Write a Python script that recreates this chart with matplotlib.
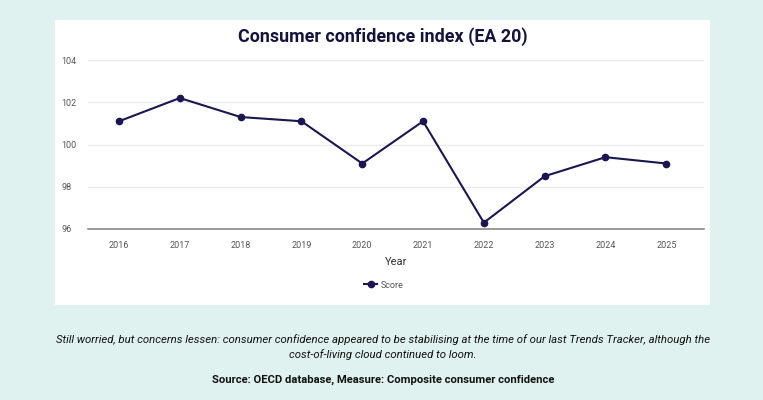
import matplotlib.pyplot as plt
from matplotlib.patches import Rectangle
from matplotlib.lines import Line2D

plt.rcParams['font.family'] = ['Roboto', 'DejaVu Sans']

years = ['2016', '2017', '2018', '2019', '2020', '2021', '2022', '2023', '2024', '2025']
scores = [101.1, 102.2, 101.3, 101.1, 99.1, 101.1, 96.3, 98.5, 99.4, 99.1]
y_ticks = [96, 98, 100, 102, 104]

W, H = 763, 400
navy = '#1c1650'

fig = plt.figure(figsize=(W / 100, H / 100), dpi=100)
fig.patch.set_facecolor('#dff2ef')

# white card behind the chart
fig.patches.append(Rectangle((55 / W, 1 - 305 / H), 655 / W, 285 / H,
                             transform=fig.transFigure, facecolor='white',
                             edgecolor='none', zorder=-5))

ax = fig.add_axes([88 / W, 1 - 229 / H, 616 / W, 169 / H])
ax.set_facecolor('white')
x = list(range(len(years)))
ax.plot(x, scores, color=navy, lw=1.5, marker='o', ms=4.5, zorder=3)

ax.set_xlim(-0.51, 9.62)
ax.set_ylim(96, 104)
ax.set_yticks(y_ticks)
ax.set_yticklabels([str(t) for t in y_ticks])
ax.set_xticks(x)
ax.set_xticklabels(years)
ax.grid(axis='y', color='#ebebeb', lw=1)
ax.set_axisbelow(True)
for s in ['top', 'right', 'left']:
    ax.spines[s].set_visible(False)
ax.spines['bottom'].set_color('#888888')
ax.spines['bottom'].set_linewidth(1.2)
ax.tick_params(length=0, labelsize=6.5, colors='#555555')
ax.tick_params(axis='x', pad=9)
ax.tick_params(axis='y', pad=19)
for lab in ax.get_yticklabels():
    lab.set_horizontalalignment('left')
ax.set_xlabel('Year', fontsize=8, color='#333333', labelpad=5)

fig.text(383 / W, 1 - 37 / H, 'Consumer confidence index (EA 20)',
         ha='center', va='center', fontsize=12.9, fontweight='bold', color='#16133a')

handle = Line2D([], [], color=navy, lw=1.5, marker='o', ms=4.5)
fig.legend([handle], ['Score'], loc='center', bbox_to_anchor=(384 / W, 1 - 285 / H),
           frameon=False, fontsize=6.5, handlelength=1.4, handletextpad=0.4,
           labelcolor='#555555')

fig.text(383 / W, 1 - 340 / H,
         'Still worried, but concerns lessen: consumer confidence appeared to be stabilising at the time of our last Trends Tracker, although the',
         ha='center', va='center', fontsize=8.2, style='italic', color='#111111')
fig.text(383 / W, 1 - 355 / H, 'cost-of-living cloud continued to loom.',
         ha='center', va='center', fontsize=8.2, style='italic', color='#111111')
fig.text(383 / W, 1 - 380 / H, 'Source: OECD database, Measure: Composite consumer confidence',
         ha='center', va='center', fontsize=8.1, fontweight='bold', color='#111111')

fig.savefig('out.png', dpi=100, facecolor=fig.get_facecolor())
